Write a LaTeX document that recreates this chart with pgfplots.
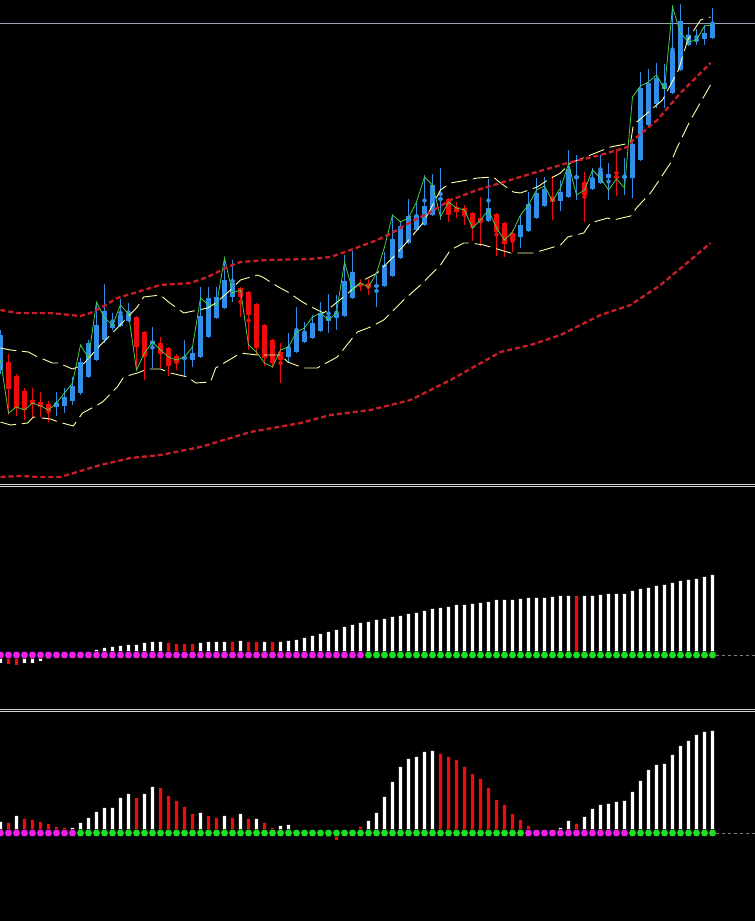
\documentclass[border=0pt]{standalone}
\usepackage{pgfplots}
\pgfplotsset{compat=1.18}
\usepackage{pgfplotstable}
\definecolor{cblue}{RGB}{48,142,232}
\definecolor{cred}{RGB}{240,12,12}
\definecolor{cbandred}{RGB}{205,30,40}
\definecolor{cyel}{RGB}{255,255,170}
\definecolor{cgreen}{RGB}{70,205,70}
\definecolor{cmag}{RGB}{238,30,238}
\definecolor{cdot}{RGB}{30,225,30}
\definecolor{cprice}{RGB}{150,160,176}
\definecolor{csep}{RGB}{215,215,215}

\pgfplotstableread{
i bt bb wt wb
0 335 370 330 374
7 403 407 392 416
8 397 406 388 413
9 386 401 377 405
10 362 393 358 395
11 343 377 340 378
12 325 360 302 361
13 311 340 284 343
14 324 328 313 330
15 315 326 299 327
16 314 321 303 322
19 341 344 327 368
23 357 359.5 340 376
24 353 360 346 367
25 316 357 287 358
26 298 337 287 338
27 297 318 287 319
28 280 308 257 309
29 283 297 260 302
36 347 357 333 363
37 331 352 307 353
38 333 342 322 343
39 323 338 315 339
40 313 331 302 332
41 316 321 294 333
42 313 318 295 330
43 281 316 255 317
44 272 298 251 299
47 285 287 275 307
48 265 286 252 287
49 239 276 215 277
50 226 258 221 259
51 216 243 199 244
52 216 230 201 231
53 206 225 175 226
54 185 215 174 216
55 198 200 168 220
61 208 221 179 222
65 225 237 215 248
66 204 231 192 232
67 193 218 178 219
68 189 206 177 207
70 192 201 180 211
71 169 197 150 198
72 176 178 155 200
74 178 189 168 190
75 171 183 155 184
76 174 178 163 200
78 176 178 158 195
79 144 178 140 198
80 88 160 72 161
81 83 125 69 126
82 78 104 63 108
83 83 89 64 108
84 51 93 5 94
85 21 70 4 71
86 35 45 27 46
87 39 41 29 45
88 33 39 25 45
89 23 38 8 39
}\upcandles

\pgfplotstableread{
i bt bb wt wb
1 362 389 354 415
2 376 408 374 416
3 391 410 388 420
4 400 404 388 417
5 402 407 392 417
6 404 411 401 422
17 317 347 316 371
18 332 356 331 380
20 343 354 337 368
21 348 366 347 376
22 356 363 354 370
30 288 297 287 317
31 292 315 291 350
32 304 348 303 355
33 325 358 324 366
34 340 363 339 368
35 352 360 343 383
45 284 286 279 291
46 284 286 279 295
56 199 215 198 222
57 207 212 202 218
58 208 215 205 225
59 213 225 212 241
60 218 222 197 246
62 214 232 213 256
63 223 244 222 257
64 233 240 230 252
69 198 202 176 220
73 182 195 172 222
77 176 178 150 196
}\downcandles

\pgfplotstableread{
i y
0 360
1 413
2 407
3 410
4 403
5 406
6 410
7 403
8 393
9 383
10 345
11 358
12 302
13 318
14 325
15 305
16 314
17 370
18 353
19 342
20 350
21 357
22 360
23 357
24 347
25 298
26 305
27 305
28 258
29 293
30 290
31 345
32 352
33 363
34 367
35 350
36 347
37 332
38 328
39 317
40 313
41 320
42 313
43 262
44 290
45 283
46 287
47 273
48 247
49 215
50 222
51 218
52 202
53 177
54 185
55 217
56 202
57 208
58 210
59 228
60 220
61 210
62 228
63 240
64 232
65 215
66 205
67 190
68 186
69 201
70 188
71 164
72 195
73 190
74 170
75 178
76 190
77 179
78 188
79 97
80 86
81 82
82 75
83 89
84 7
85 33
86 42
87 40
88 26
89 25
}\greenline

\pgfplotstableread{
i y
0 348
1.25 350
3.5 352
4.4 356
6.5 363
7.25 363
9 369
10.25 365
12.5 345
14.6 328
17.1 307
17.9 297
20 295
21 302
22.9 313
23.5 312
25.9 308
26.9 303
28.75 290
30 280
32.1 275
32.75 277
34.75 287
35.9 292
37.75 302
38.4 305
40.4 313
42.1 302
45.4 280
47.1 273
49.1 257
51.25 238
52.9 222
55 190
56.25 183
58.4 180
59.6 178
61.6 177
62.5 183
64.1 192
65 193
67.1 187
68.4 180
70 173
71.25 163
73.75 155
76.25 147
78.75 143
79.1 125
81 112
82.75 100
84.75 70
85.9 40
87.5 20
88.75 17
}\yelup

\pgfplotstableread{
i y
0 422
1.25 425
3.4 423
4.1 417
6.25 419
7.25 422
9.1 426
10.25 413
12.1 405
12.75 402
14.6 387
15.4 377
17.1 373
18.4 369
20 369
21.25 373
23.4 377
24.4 383
26.25 382
26.9 368
29 358
30 353
32.1 355
35 355
35.9 362
37.9 368
39.6 368
40.25 365
42.1 357
44.6 332
46.25 327
47.9 320
50.4 300
52.5 285
55 265
56.25 250
57.9 243
58.75 243
60.4 245
62.5 250
63.75 253
66.6 253
67.9 250
70 245
70.9 237
72.9 233
73.75 223
75.9 218
76.6 220
78.75 216
79.6 207
81.25 193
82.1 183
83.75 163
84.6 147
86.25 120
88.75 85
}\yellow

\pgfplotstableread{
i y
0 310
2.1 313
6.25 313
10 316
11.25 313
12.5 308
14.6 298
17.5 291
20 285
23.75 283
25.9 277
28.4 267
30 262
33.4 260
38.75 259
41.25 257
43.75 250
47.1 240
49.6 230
51.25 222
53.75 212
56.25 200
59.6 190
62.5 183
66.6 173
70.9 163
75 155
78.4 147
79.1 140
82.1 120
85 93
88.75 63
}\redup

\pgfplotstableread{
i y
0 477
2.5 476
5 477
7.5 477
10.4 470
12.5 465
16.25 458
20 455
25 447
31.25 432
37.5 423
41.25 415
46.25 410
51.25 400
56.25 380
62.5 352
66.25 345
70 335
75 315
78.75 305
82.5 285
86.25 260
88.75 243
}\redlow

\pgfplotsset{panel/.style={scale only axis, width=755pt, xmin=-0.0625, xmax=94.3125,
  axis line style={draw=none}, ticks=none, clip marker paths=true, anchor=south west}}

\begin{document}
\begin{tikzpicture}
\fill[black] (0,0) rectangle (755pt,921pt);

% ---------- top panel: price ----------
\begin{axis}[panel, at={(0pt,437pt)}, height=484pt, y dir=reverse, ymin=0, ymax=484]
\addplot[cprice, line width=1pt, mark=none] coordinates {(-1,24) (96,24)};
\addplot[cblue, only marks, mark=none, error bars/.cd, y dir=both, y explicit, error mark=none,
  error bar style={line width=1pt, solid, cblue}]
  table[x=i, y expr={(\thisrow{wt}+\thisrow{wb})/2}, y error expr={(\thisrow{wb}-\thisrow{wt})/2}] {\upcandles};
\addplot[cred, only marks, mark=none, error bars/.cd, y dir=both, y explicit, error mark=none,
  error bar style={line width=1pt, solid, cred}]
  table[x=i, y expr={(\thisrow{wt}+\thisrow{wb})/2}, y error expr={(\thisrow{wb}-\thisrow{wt})/2}] {\downcandles};
\addplot[cblue, only marks, mark=none, error bars/.cd, y dir=both, y explicit, error mark=none,
  error bar style={line width=5pt, solid, cblue}]
  table[x=i, y expr={(\thisrow{bt}+\thisrow{bb})/2}, y error expr={(\thisrow{bb}-\thisrow{bt})/2}] {\upcandles};
\addplot[cred, only marks, mark=none, error bars/.cd, y dir=both, y explicit, error mark=none,
  error bar style={line width=5pt, solid, cred}]
  table[x=i, y expr={(\thisrow{bt}+\thisrow{bb})/2}, y error expr={(\thisrow{bb}-\thisrow{bt})/2}] {\downcandles};
\addplot[cyel, line width=0.9pt, mark=none, dash pattern=on 16pt off 6pt] table[x=i,y=y] {\yelup};
\addplot[cyel, line width=0.9pt, mark=none, dash pattern=on 16pt off 6pt] table[x=i,y=y] {\yellow};
\addplot[cgreen, line width=0.8pt, mark=none] table[x=i,y=y] {\greenline};
\addplot[cbandred, line width=2.3pt, mark=none, dash pattern=on 5pt off 3pt] table[x=i,y=y] {\redup};
\addplot[cbandred, line width=2.3pt, mark=none, dash pattern=on 5pt off 3pt] table[x=i,y=y] {\redlow};
\end{axis}

% ---------- middle panel ----------
\begin{axis}[panel, at={(0pt,212pt)}, height=222pt, ymin=-54, ymax=168]
\addplot[gray, line width=0.8pt, mark=none, dash pattern=on 3pt off 3pt] coordinates {(89.4,0) (95,0)};
\addplot[ybar, bar width=3.3pt, bar shift=0pt, fill=white, draw=none] coordinates {
(0,-8) (3,-8) (4,-8) (5,-6) (6,-4) (7,-2) (8,-1) (9,1) (10,2) (11,3) (12,5) (13,7) (14,8) (15,9)
(16,10) (17,10) (18,12) (19,13) (20,13) (25,12) (26,13) (27,13) (28,13) (30,14) (33,13) (35,13)
(36,14) (37,15) (38,17) (39,19) (40,21) (41,23) (42,25) (43,28) (44,30) (45,32) (46,33) (47,35)
(48,36) (49,38) (50,39) (51,41) (52,42) (53,44) (54,46) (55,47) (56,48) (57,50) (58,50) (59,51)
(60,52) (61,53) (62,55) (63,55) (64,55) (65,56) (66,57) (67,57) (68,57) (69,58) (70,59) (71,59)
(73,59) (74,59) (75,60) (76,61) (77,61) (78,61) (79,64) (80,66) (81,67) (82,69) (83,70) (84,72)
(85,74) (86,75) (87,76) (88,78) (89,80)};
\addplot[ybar, bar width=3.3pt, bar shift=0pt, fill=cred, draw=none] coordinates {
(1,-9) (2,-10) (21,12) (22,11) (23,11) (24,11) (29,13) (31,13) (32,13) (34,13) (72,59)};
\addplot[only marks, mark=*, mark size=3.8pt, mark options={draw=none, fill=cmag}] coordinates {
(0,0) (1,0) (2,0) (3,0) (4,0) (5,0) (6,0) (7,0) (8,0) (9,0) (10,0) (11,0) (12,0) (13,0) (14,0)
(15,0) (16,0) (17,0) (18,0) (19,0) (20,0) (21,0) (22,0) (23,0) (24,0) (25,0) (26,0) (27,0) (28,0)
(29,0) (30,0) (31,0) (32,0) (33,0) (34,0) (35,0) (36,0) (37,0) (38,0) (39,0) (40,0) (41,0) (42,0)
(43,0) (44,0) (45,0)};
\addplot[only marks, mark=*, mark size=3.8pt, mark options={draw=none, fill=cdot}] coordinates {
(46,0) (47,0) (48,0) (49,0) (50,0) (51,0) (52,0) (53,0) (54,0) (55,0) (56,0) (57,0) (58,0) (59,0)
(60,0) (61,0) (62,0) (63,0) (64,0) (65,0) (66,0) (67,0) (68,0) (69,0) (70,0) (71,0) (72,0) (73,0)
(74,0) (75,0) (76,0) (77,0) (78,0) (79,0) (80,0) (81,0) (82,0) (83,0) (84,0) (85,0) (86,0) (87,0)
(88,0) (89,0)};
\end{axis}

% ---------- bottom panel ----------
\begin{axis}[panel, at={(0pt,0pt)}, height=209pt, ymin=-88, ymax=121]
\addplot[gray, line width=0.8pt, mark=none, dash pattern=on 3pt off 3pt] coordinates {(89.4,0) (95,0)};
\addplot[ybar, bar width=3.3pt, bar shift=0pt, fill=white, draw=none] coordinates {
(0,11) (2,17) (9,5) (10,10) (11,15) (12,21) (13,25) (14,25) (15,35) (16,39) (18,39) (19,46)
(25,20) (28,17) (30,19) (32,14) (35,7) (36,8) (37,2) (38,1) (41,-4) (46,12) (47,20) (48,36)
(49,51) (50,66) (51,74) (52,76) (53,81) (54,82) (67,1) (68,1) (69,2) (70,5) (71,12) (73,16)
(74,24) (75,28) (76,29) (77,31) (78,32) (79,41) (80,52) (81,63) (82,68) (83,69) (84,78) (85,87)
(86,92) (87,98) (88,101) (89,102)};
\addplot[ybar, bar width=3.3pt, bar shift=0pt, fill=cred, draw=none] coordinates {
(1,10) (3,14) (4,13) (5,11) (6,9) (7,6) (8,5) (17,35) (20,45) (21,37) (22,32) (23,26) (24,19)
(26,17) (27,15) (29,15) (31,14) (33,10) (34,5) (42,-7) (45,6) (55,79) (56,76) (57,73) (58,66)
(59,59) (60,54) (61,45) (62,33) (63,28) (64,19) (65,13) (66,7) (72,9)};
\addplot[only marks, mark=*, mark size=3.8pt, mark options={draw=none, fill=cmag}] coordinates {
(0,0) (1,0) (2,0) (3,0) (4,0) (5,0) (6,0) (7,0) (8,0) (9,0)
(66,0) (67,0) (68,0) (69,0) (70,0) (71,0) (72,0) (73,0) (74,0) (75,0) (76,0) (77,0) (78,0)};
\addplot[only marks, mark=*, mark size=3.8pt, mark options={draw=none, fill=cdot}] coordinates {
(10,0) (11,0) (12,0) (13,0) (14,0) (15,0) (16,0) (17,0) (18,0) (19,0) (20,0) (21,0) (22,0) (23,0)
(24,0) (25,0) (26,0) (27,0) (28,0) (29,0) (30,0) (31,0) (32,0) (33,0) (34,0) (35,0) (36,0) (37,0)
(38,0) (39,0) (40,0) (41,0) (42,0) (43,0) (44,0) (45,0) (46,0) (47,0) (48,0) (49,0) (50,0) (51,0)
(52,0) (53,0) (54,0) (55,0) (56,0) (57,0) (58,0) (59,0) (60,0) (61,0) (62,0) (63,0) (64,0) (65,0)
(79,0) (80,0) (81,0) (82,0) (83,0) (84,0) (85,0) (86,0) (87,0) (88,0) (89,0)};
\end{axis}

% panel separators
\draw[csep, line width=1pt] (0pt,436.7pt) -- (755pt,436.7pt);
\draw[csep, line width=1pt] (0pt,434.7pt) -- (755pt,434.7pt);
\draw[csep, line width=1pt] (0pt,211.7pt) -- (755pt,211.7pt);
\draw[csep, line width=1pt] (0pt,209.7pt) -- (755pt,209.7pt);

\pgfresetboundingbox
\useasboundingbox (0pt,0pt) rectangle (755pt,921pt);
\end{tikzpicture}
\end{document}
